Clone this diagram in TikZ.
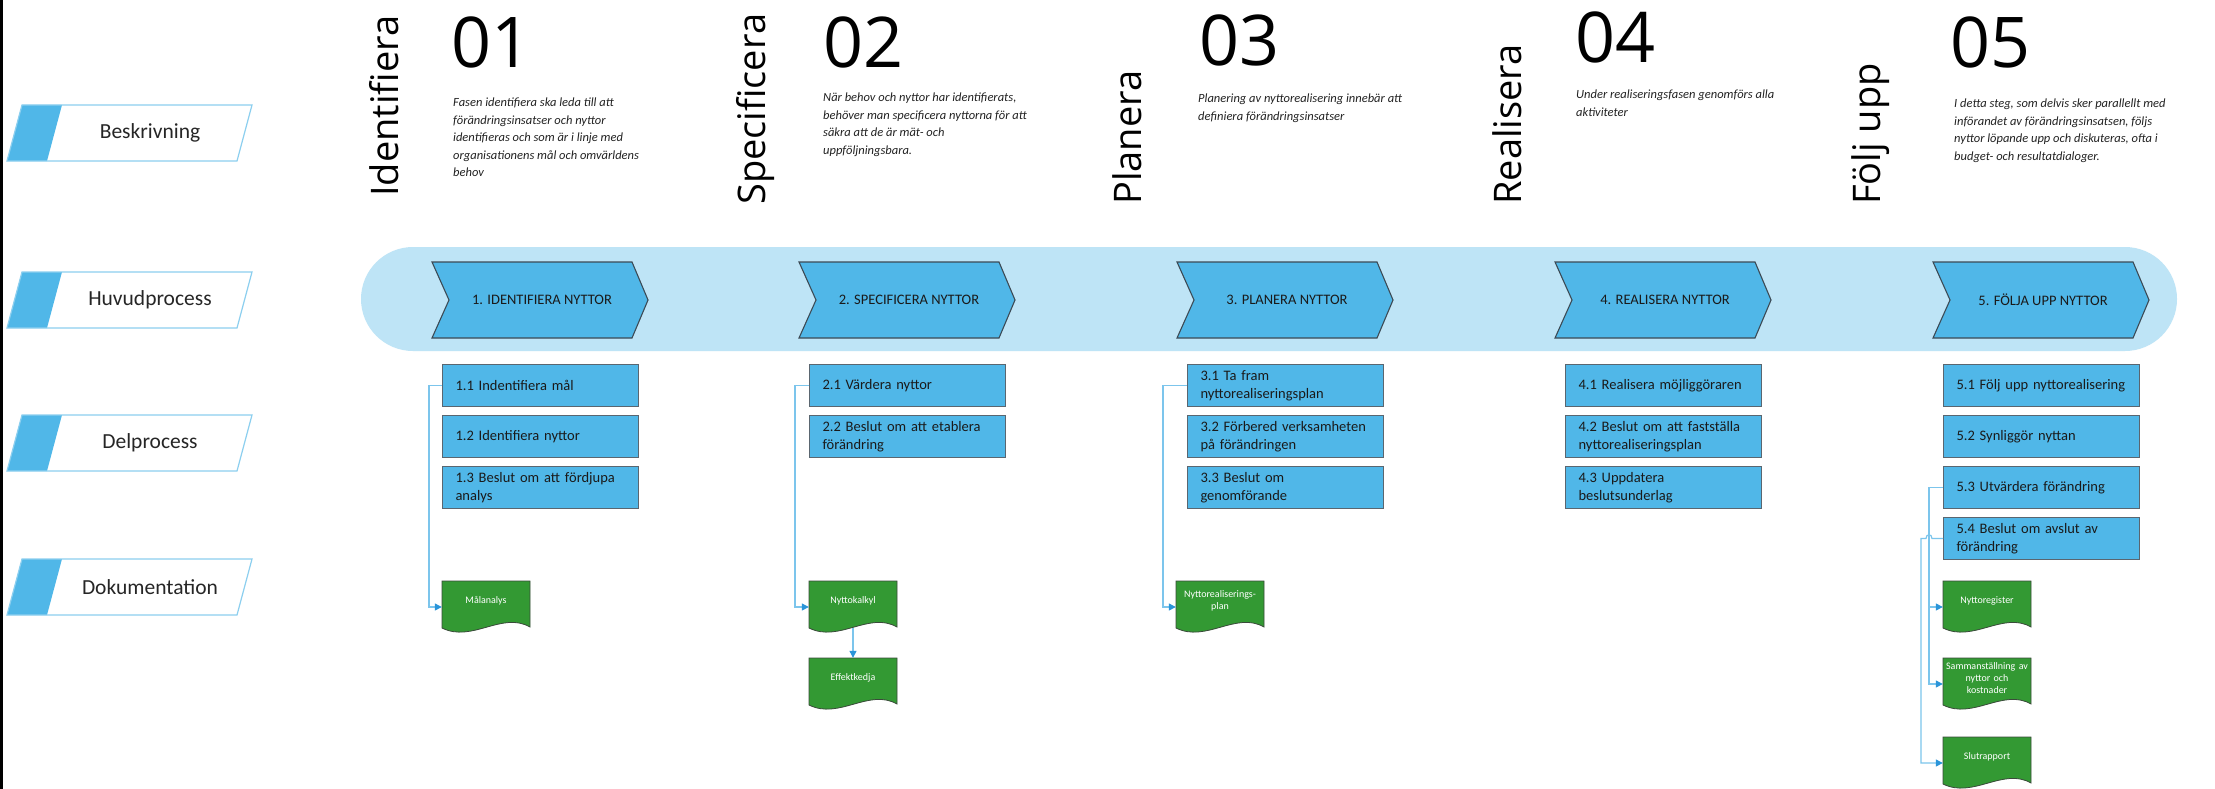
\documentclass[tikz,border=0pt]{standalone}
\usepackage{fontspec}
\setmainfont{Carlito}
\newfontfamily\headfont{Open Sans}
\usetikzlibrary{arrows.meta,calc}

\definecolor{boxblue}{HTML}{50B7E8}
\definecolor{bandblue}{HTML}{BEE4F6}
\definecolor{lblblue}{HTML}{8CCFEF}
\definecolor{docgreen}{HTML}{339933}
\definecolor{docline}{HTML}{3A4A3A}
\definecolor{chevline}{HTML}{3C4A55}
\definecolor{boxline}{HTML}{5A6670}
\definecolor{connblue}{HTML}{7CC5EC}
\definecolor{arrowblue}{HTML}{2B95D9}
\definecolor{labeltext}{HTML}{262626}
\definecolor{desctext}{HTML}{222222}
\definecolor{boxtext}{HTML}{1A1A1A}

\tikzset{
 lblline/.style={draw=lblblue, line width=1.2pt},
 lbltext/.style={font=\fontsize{21.5}{25}\selectfont, text=labeltext, inner sep=0pt},
 ttl/.style={font=\headfont\fontsize{38}{40}\selectfont, inner sep=0pt, rotate=90, anchor=base west},
 numtxt/.style={font=\headfont\fontsize{70}{72}\selectfont, inner sep=0pt, anchor=base west},
 desctxt/.style={font=\fontsize{12.5}{17.5}\selectfont\itshape, align=left, inner sep=0pt, anchor=north west, text=desctext},
 chevbody/.style={fill=boxblue, draw=chevline, line width=1.1pt},
 chevtxt/.style={font=\fontsize{14.5}{17}\selectfont, text=boxtext, inner sep=0pt},
 subbox/.style={draw=boxline, fill=boxblue, line width=1pt, anchor=north west, minimum height=42pt, text width=170pt, inner xsep=13pt, inner ysep=0pt, align=left, font=\fontsize{14.5}{18}\selectfont, text=boxtext},
 docbody/.style={fill=docgreen, draw=docline, line width=0.8pt},
 doctxt/.style={font=\fontsize{10}{12}\selectfont, text=white, align=center, text width=84pt, inner xsep=2pt, inner ysep=0pt, minimum height=40pt},
 connline/.style={draw=connblue, line width=1.2pt},
 arr/.style={-{Triangle[length=7pt,width=7pt,color=arrowblue]}},
}

\newcommand\oneline[1]{\mbox{#1}}
\newcommand\lanelabel[3]{%
 \fill[boxblue] (7,#2+28) -- (22,#2-28) -- (62,#2-28) -- (47,#2+28) -- cycle;
 \draw[lblline] (7,#2+28) -- (22,#2-28) -- (252,#2-28) -- (237,#2+28) -- cycle;
 \node[lbltext] (#1) at (150,#2) {#3};}
\newcommand\chev[3]{%
 \filldraw[chevbody] (#2,262) -- (#2+200,262) -- (#2+216,300) -- (#2+200,338) -- (#2,338) -- (#2+17,300) -- cycle;
 \node[chevtxt] (#1) at (#2+110,300) {#3};}
\newcommand\docshape[4]{%
 \filldraw[docbody] (#2,#3) -- (#2+88,#3) -- (#2+88,#3+46) .. controls (#2+60,#3+30) and (#2+30,#3+62) .. (#2,#3+47) -- cycle;
 \node[doctxt] (#1) at (#2+44,#3+20) {#4};}

\begin{document}
\begin{tikzpicture}[x=1pt,y=-1pt]
\useasboundingbox (0,0) rectangle (2215,789);
\fill[white] (0,0) rectangle (2215,789);
\fill[black] (0,0) rectangle (3,789);

% lane labels
\lanelabel{lBes}{133}{Beskrivning}
\lanelabel{lHuv}{300}{Huvudprocess}
\lanelabel{lDel}{443}{Delprocess}
\lanelabel{lDok}{587}{Dokumentation}

% phase titles
\node[ttl] (t1) at (398,197) {Identifiera};
\node[ttl] (t2) at (765,205) {Specificera};
\node[ttl] (t3) at (1141,205) {Planera};
\node[ttl] (t4) at (1521,205) {Realisera};
\node[ttl] (t5) at (1880,205) {Följ upp};

% numbers
\node[numtxt] (n1) at (451,68) {01};
\node[numtxt] (n2) at (823,68) {02};
\node[numtxt] (n3) at (1199,66) {03};
\node[numtxt] (n4) at (1575,63) {04};
\node[numtxt] (n5) at (1950,68) {05};

% descriptions
\node[desctxt] (d1) at (453,98) {Fasen identifiera ska leda till att\\förändringsinsatser och nyttor\\identifieras och som är i linje med\\organisationens mål och omvärldens\\behov};
\node[desctxt] (d2) at (823,93) {När behov och nyttor har identifierats,\\behöver man specificera nyttorna för att\\säkra att de är mät- och\\uppföljningsbara.};
\node[desctxt] (d3) at (1198,94) {Planering av nyttorealisering innebär att\\definiera förändringsinsatser};
\node[desctxt] (d4) at (1576,90) {Under realiseringsfasen genomförs alla\\aktiviteter};
\node[desctxt] (d5) at (1954,99) {I detta steg, som delvis sker parallellt med\\införandet av förändringsinsatsen, följs\\nyttor löpande upp och diskuteras, ofta i\\budget- och resultatdialoger.};

% band
\fill[bandblue, rounded corners=52pt] (361,247) rectangle (2177,351);

% chevrons
\chev{c1}{432}{1. IDENTIFIERA NYTTOR}
\chev{c2}{799}{2. SPECIFICERA NYTTOR}
\chev{c3}{1177}{3. PLANERA NYTTOR}
\chev{c4}{1555}{4. REALISERA NYTTOR}
\chev{c5}{1933}{5. FÖLJA UPP NYTTOR}

% sub-process boxes
\node[subbox] (b11) at (442,364) {\oneline{1.1 Indentifiera mål}};
\node[subbox] (b12) at (442,415) {\oneline{1.2 Identifiera nyttor}};
\node[subbox] (b13) at (442,466) {\oneline{1.3 Beslut om att fördjupa}\\\oneline{analys}};

\node[subbox] (b21) at (809,364) {\oneline{2.1 Värdera nyttor}};
\node[subbox] (b22) at (809,415) {\oneline{2.2 Beslut om att etablera}\\\oneline{förändring}};

\node[subbox] (b31) at (1187,364) {\oneline{3.1 Ta fram}\\\oneline{nyttorealiseringsplan}};
\node[subbox] (b32) at (1187,415) {\oneline{3.2 Förbered verksamheten}\\\oneline{på förändringen}};
\node[subbox] (b33) at (1187,466) {\oneline{3.3 Beslut om}\\\oneline{genomförande}};

\node[subbox] (b41) at (1565,364) {\oneline{4.1 Realisera möjliggöraren}};
\node[subbox] (b42) at (1565,415) {\oneline{4.2 Beslut om att fastställa}\\\oneline{nyttorealiseringsplan}};
\node[subbox] (b43) at (1565,466) {\oneline{4.3 Uppdatera}\\\oneline{beslutsunderlag}};

\node[subbox] (b51) at (1943,364) {\oneline{5.1 Följ upp nyttorealisering}};
\node[subbox] (b52) at (1943,415) {\oneline{5.2 Synliggör nyttan}};
\node[subbox] (b53) at (1943,466) {\oneline{5.3 Utvärdera förändring}};
\node[subbox] (b54) at (1943,517) {\oneline{5.4 Beslut om avslut av}\\\oneline{förändring}};

% documents
\docshape{m1}{442}{581}{Målanalys}
\docshape{k1}{809}{581}{Nyttokalkyl}
\docshape{k2}{809}{658}{Effektkedja}
\docshape{p1}{1176}{581}{Nyttorealiserings-\\plan}
\docshape{r1}{1943}{581}{Nyttoregister}
\docshape{r2}{1943}{658}{Sammanställning av\\nyttor och\\kostnader}
\docshape{r3}{1943}{737}{Slutrapport}

% connectors
\draw[connline,arr] (b11.west) -- ++(-13,0) |- ($(m1.west)+(0,6)$);
\draw[connline,arr] (b21.west) -- ++(-14,0) |- ($(k1.west)+(0,6)$);
\draw[connline,arr] ($(k1.south)+(0,7)$) -- (k2.north);
\draw[connline,arr] (b31.west) -- ++(-24,0) |- ($(p1.west)+(0,6)$);
\draw[connline,arr] (b53.west) -- ++(-14,0) |- ($(r1.west)+(0,6)$);
\draw[connline,arr] (b53.west) -- ++(-14,0) |- ($(r2.west)+(0,6)$);
\draw[connline,arr] (b54.west) -- ++(-11,0) .. controls +(0,-5) and +(0,-5) .. ++(-6,0) -- ++(-5,0) |- ($(r3.west)+(0,6)$);
\end{tikzpicture}
\end{document}
